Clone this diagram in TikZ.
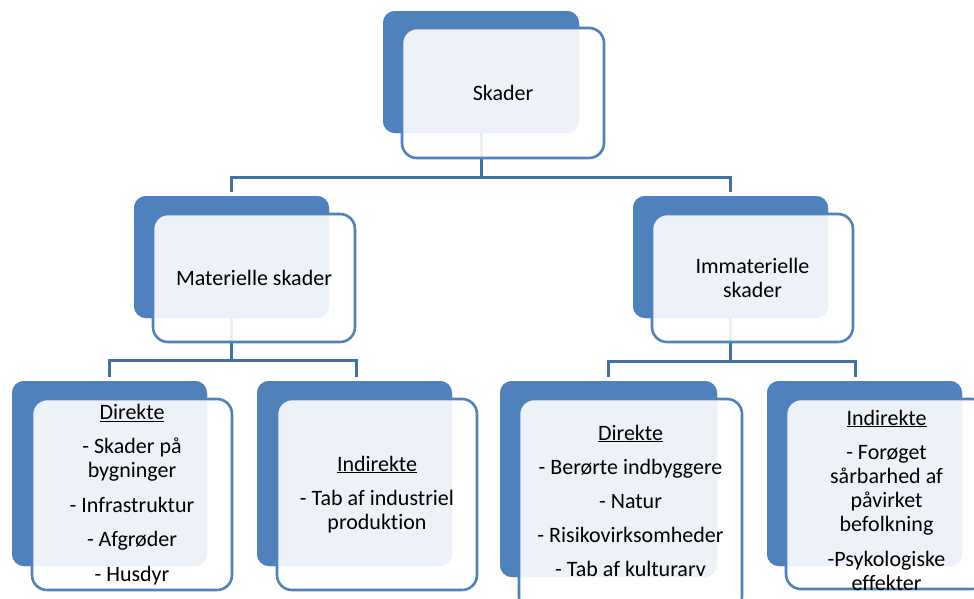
\documentclass[tikz,border=0pt]{standalone}
\usepackage{fontspec}
\setmainfont{Carlito}[Ligatures=NoCommon]
\usetikzlibrary{calc}
\definecolor{accblue}{RGB}{79,129,189}
\definecolor{connblue}{RGB}{68,111,163}
\tikzset{
  backbox/.style  = {fill=accblue, rounded corners=12pt, inner sep=0pt, outer sep=0pt, anchor=north west},
  frontbox/.style = {draw=accblue, line width=2.6pt, fill=white, fill opacity=0.9, text opacity=1,
                     rounded corners=15pt, inner sep=0pt, outer sep=0pt, anchor=north west,
                     align=center, text=black},
  listtext/.style = {inner sep=0pt, align=center, text=black, font=\listtxt},
  conn/.style     = {connblue, line width=3pt}
}
\newcommand{\toptxt}{\fontsize{22}{24}\selectfont}
\newcommand{\listtxt}{\fontsize{22}{24}\selectfont}

\begin{document}
\begin{tikzpicture}[x=1pt,y=-1pt]
  \useasboundingbox (0,0) rectangle (974,598);
  \clip (0,0) rectangle (974,598);
  % back boxes
  \node[backbox,minimum width=196pt,minimum height=122pt] (skaderB) at (383,11) {};
  \node[backbox,minimum width=195pt,minimum height=122pt] (matB)    at (134,196) {};
  \node[backbox,minimum width=195pt,minimum height=122pt] (immatB)  at (633,196) {};
  \node[backbox,minimum width=195pt,minimum height=185pt] (matdirB) at (12,381) {};
  \node[backbox,minimum width=195pt,minimum height=185pt] (matindB) at (257,381) {};
  \node[backbox,minimum width=217pt,minimum height=196pt] (imdirB)  at (500,381) {};
  \node[backbox,minimum width=195pt,minimum height=185pt] (imindB)  at (767,381) {};
  % connectors
  \draw[conn] (skaderB.south) -- ++(0,44) -| ([yshift=4pt]matB.north);
  \draw[conn] (skaderB.south) -- ++(0,44) -| ([yshift=4pt]immatB.north);
  \draw[conn] (matB.south) -- ++(0,42) -| ([yshift=4pt]matdirB.north);
  \draw[conn] (matB.south) -- ++(0,42) -| ([xshift=2pt,yshift=4pt]matindB.north);
  \draw[conn] (immatB.south) -- ++(0,43) -| ([yshift=4pt]imdirB.north);
  \draw[conn] (immatB.south) -- ++(0,43) -| ([xshift=-9pt,yshift=4pt]imindB.north);
  % back boxes again on top of the connector ends
  \foreach \b in {skaderB,matB,immatB,matdirB,matindB,imdirB,imindB}
    \fill[accblue,rounded corners=12pt] (\b.north west) rectangle (\b.south east);
  % front boxes with text
  \node[frontbox,font=\toptxt,minimum width=202pt,minimum height=130pt] (skaderF) at (402,28) {Skader};
  \node[frontbox,font=\toptxt,minimum width=202pt,minimum height=128pt] (matF) at (153,214) {Materielle skader};
  \node[frontbox,font=\toptxt,minimum width=201pt,minimum height=128pt] (immatF) at (652,214) {Immaterielle\\skader};
  \node[frontbox,font=\listtxt,minimum width=200pt,minimum height=191pt] (matdirF) at (32,399)
    {\underline{Direkte}\\[10.5pt]- Skader på\\bygninger\\[10.5pt]- Infrastruktur\\[10.5pt]- Afgrøder\\[10.5pt]- Husdyr};
  \node[frontbox,font=\listtxt,minimum width=200pt,minimum height=191pt] (matindF) at (277,399)
    {\underline{Indirekte}\\[10.5pt]- Tab af industriel\\produktion};
  \node[frontbox,minimum width=223pt,minimum height=213pt] (imdirF) at (519,399) {};
  \node[listtext] (imdirT) at ([yshift=5pt]imdirF.center)
    {\underline{Direkte}\\[10pt]- Berørte indbyggere\\[10pt]- Natur\\[10pt]- Risikovirksomheder\\[10pt]- Tab af kulturarv};
  \node[frontbox,minimum width=201pt,minimum height=190pt] (imindF) at (786,399) {};
  \node[listtext] (imindT) at ([yshift=-6pt]imindF.center)
    {\underline{Indirekte}\\[10pt]- Forøget\\sårbarhed af\\påvirket\\befolkning\\[11pt]-Psykologiske\\effekter};
\end{tikzpicture}
\end{document}
